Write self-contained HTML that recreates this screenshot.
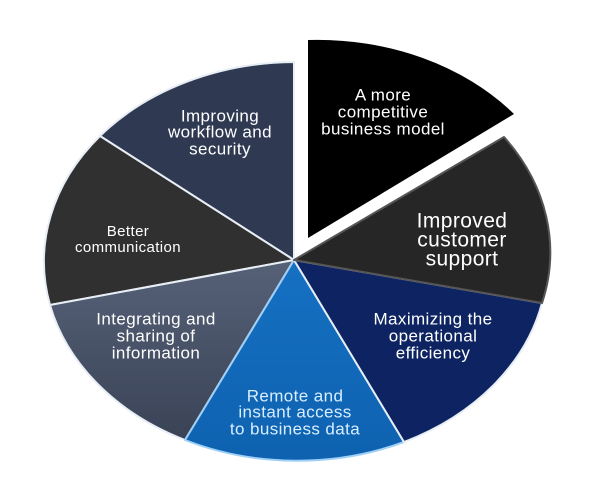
<!DOCTYPE html>
<html><head><meta charset="utf-8"><style>
html,body{margin:0;padding:0;background:#fff;width:600px;height:500px;overflow:hidden}
svg{display:block}
text{font-family:"Liberation Sans",sans-serif;fill:#fff;text-anchor:middle;dominant-baseline:middle;letter-spacing:0.4px}
</style></head><body>
<svg width="600" height="500" viewBox="0 0 600 500">
<defs>
<linearGradient id="gi" x1="0" y1="0" x2="0" y2="1"><stop offset="0" stop-color="#566178"/><stop offset="1" stop-color="#3a4356"/></linearGradient>
<linearGradient id="gr" x1="0" y1="0" x2="0" y2="1"><stop offset="0" stop-color="#1670c2"/><stop offset="1" stop-color="#0e62b0"/></linearGradient>
</defs>
<g stroke="#e8eef5" stroke-width="2" stroke-linejoin="round">
<path d="M294,260 L294,62 A253,200 0 0 0 100,136 Z" fill="#2f3a52"/>
<path d="M294,260 L100,136 A253,200 0 0 0 50,305 Z" fill="#303030"/>
<path d="M294,260 L50,305 A253,200 0 0 0 185,440 Z" fill="url(#gi)"/>
<path d="M294,260 L185,440 A253,200 0 0 0 404,442 Z" fill="url(#gr)" stroke="#9fd0f5"/>
<path d="M294,260 L404,442 A253,200 0 0 0 542,303 Z" fill="#0e2462"/>
<path d="M294,260 L542,303 A253,200 0 0 0 504,137 Z" fill="#262626" stroke="#555"/>
</g>
<path d="M308,238 L308,40 A253,200 0 0 1 514,114 Z" fill="#000"/>
<g font-size="17">
<text x="383" y="96">A more</text>
<text x="383" y="113">competitive</text>
<text x="383" y="130">business model</text>
<text x="220" y="117">Improving</text>
<text x="220" y="133">workflow and</text>
<text x="220" y="150">security</text>
<text x="128" y="232" font-size="15">Better</text>
<text x="128" y="248" font-size="15">communication</text>
<text x="156" y="320">Integrating and</text>
<text x="156" y="337">sharing of</text>
<text x="156" y="354">information</text>
<text x="433" y="320">Maximizing the</text>
<text x="433" y="337">operational</text>
<text x="433" y="354">efficiency</text>
<text x="295" y="397" style="fill:#d8eeff">Remote and</text>
<text x="295" y="413" style="fill:#d8eeff">instant access</text>
<text x="295" y="430" style="fill:#d8eeff">to business data</text>
<text x="462" y="222" font-size="21">Improved</text>
<text x="462" y="241" font-size="21">customer</text>
<text x="462" y="260" font-size="21">support</text>
</g>
</svg>
</body></html>
